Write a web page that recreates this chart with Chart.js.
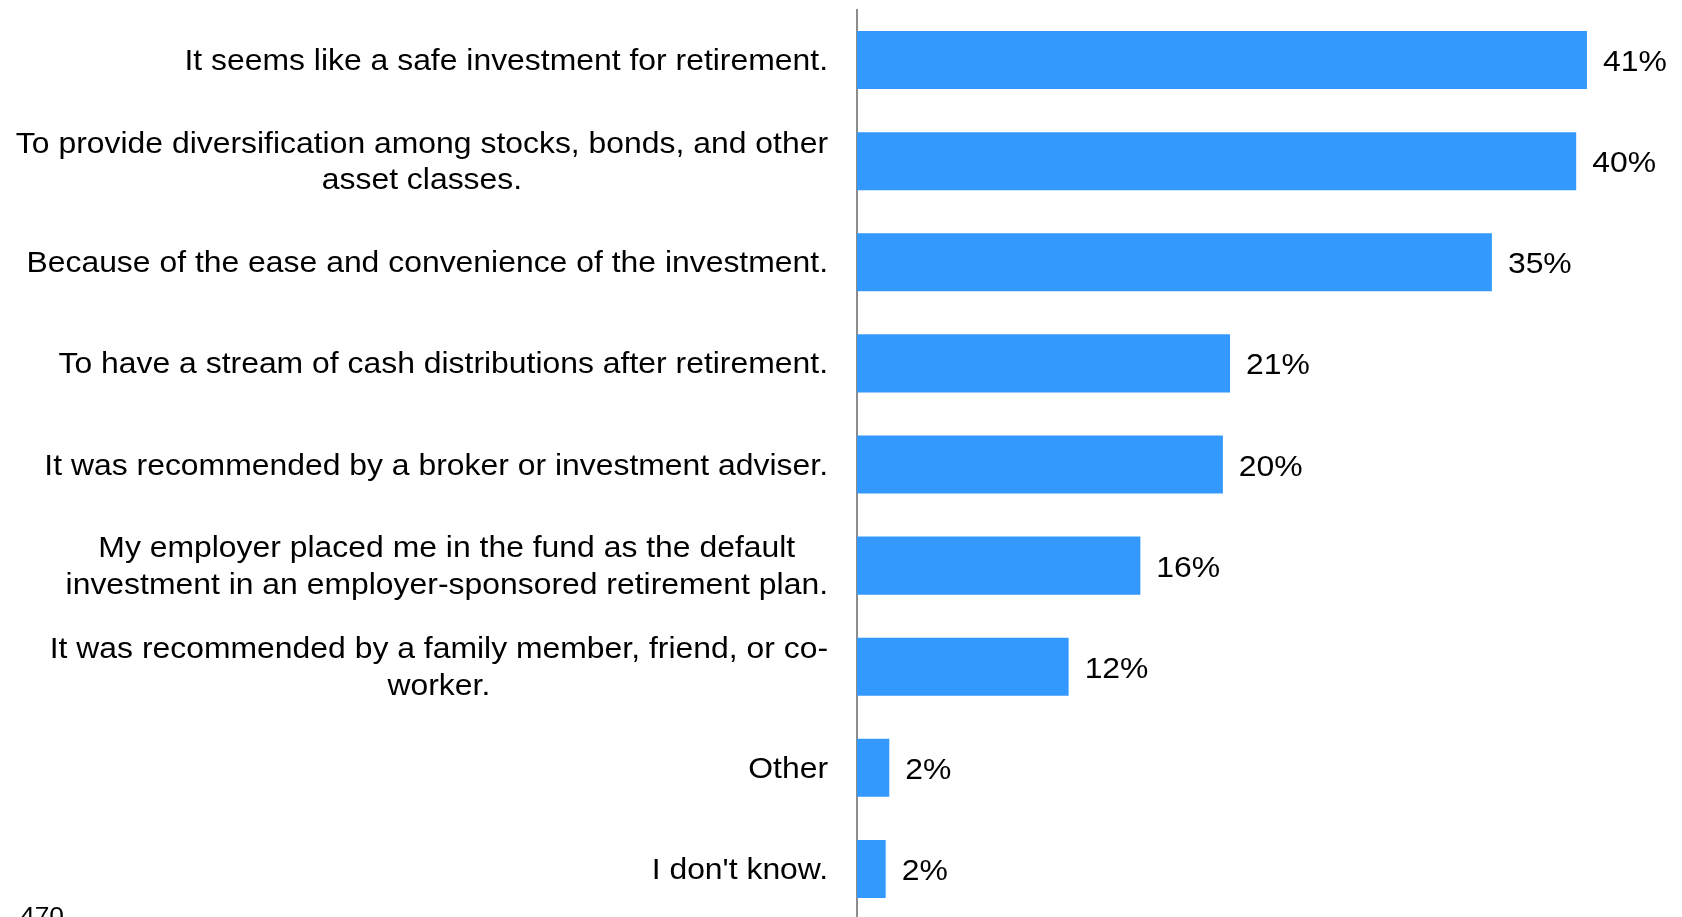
<!DOCTYPE html>
<html>
<head>
<meta charset="utf-8">
<title>Reasons for investing</title>
<script src="https://cdn.jsdelivr.net/npm/chart.js@4/dist/chart.umd.min.js"></script>
<style>
    html, body { margin: 0; padding: 0; background: #fff; overflow: hidden; }
    #chartWrap { position: relative; width: 1682px; height: 940px; }
</style>
</head>
<body>
<div id="chartWrap"><canvas id="reasonsChart"></canvas></div>
<script>
// Chart data
const reasons = [
    'It seems like a safe investment for retirement.',
    ['To provide diversification among stocks, bonds, and other', 'asset classes.'],
    'Because of the ease and convenience of the investment.',
    'To have a stream of cash distributions after retirement.',
    'It was recommended by a broker or investment adviser.',
    ['My employer placed me in the fund as the default', 'investment in an employer-sponsored retirement plan.'],
    ['It was recommended by a family member, friend, or co-', 'worker.'],
    'Other',
    "I don't know."
];
const shares = [40.7, 40.1, 35.4, 20.8, 20.4, 15.8, 11.8, 1.8, 1.6];
const footNote = '470';

const FONT = '"Liberation Sans", Arial, sans-serif';
const FONT_SIZE = 29;
const STRETCH = 1.10;   // text in the original is rendered a bit wide
const LINE_HEIGHT = 36.5;
const AXIS_X = 857;

document.addEventListener('DOMContentLoaded', function() {
    initializeChart();
});

// draw one piece of text, stretched horizontally around its anchor
function drawText(ctx, text, x, y) {
    ctx.save();
    ctx.translate(x, y);
    ctx.scale(STRETCH, 1);
    ctx.fillText(text, 0, 0);
    ctx.restore();
}

// Draws category labels (right aligned block, lines centred) and value labels
const labelPlugin = {
    id: 'labelPlugin',
    afterDraw(chart) {
        const ctx = chart.ctx;
        const yScale = chart.scales.y;
        const meta = chart.getDatasetMeta(0);
        ctx.save();
        ctx.font = FONT_SIZE + 'px ' + FONT;
        ctx.fillStyle = '#000';
        ctx.textBaseline = 'middle';
        ctx.textAlign = 'center';

        reasons.forEach((label, i) => {
            const lines = Array.isArray(label) ? label : [label];
            const blockW = Math.max(...lines.map(l => ctx.measureText(l).width)) * STRETCH;
            const cx = yScale.right - 29 - blockW / 2;
            const cy = yScale.getPixelForValue(i) + 2;
            lines.forEach((line, j) => {
                drawText(ctx, line, cx, cy + (j - (lines.length - 1) / 2) * LINE_HEIGHT);
            });
        });

        // value labels
        ctx.textAlign = 'left';
        meta.data.forEach((bar, i) => {
            drawText(ctx, Math.round(shares[i]) + '%', bar.x + 16, bar.y + 3);
        });

        // sample size note at the bottom left (cut off by the page edge)
        ctx.font = '24px ' + FONT;
        ctx.textBaseline = 'top';
        drawText(ctx, footNote, 20, 905);
        ctx.restore();
    }
};

function initializeChart() {
    const ctx = document.getElementById('reasonsChart');
    new Chart(ctx, {
        type: 'bar',
        data: {
            labels: reasons,
            datasets: [{
                data: shares,
                backgroundColor: '#3399ff',
                borderWidth: 0,
                categoryPercentage: 1,
                barPercentage: 0.574
            }]
        },
        options: {
            indexAxis: 'y',
            responsive: true,
            maintainAspectRatio: false,
            animation: false,
            layout: {
                padding: { top: 9.5, bottom: 20.5, left: 0, right: 0 }
            },
            plugins: {
                legend: { display: false },
                tooltip: { enabled: false }
            },
            scales: {
                x: {
                    display: false,
                    min: 0,
                    max: 46
                },
                y: {
                    grid: { display: false },
                    border: { display: true, color: '#8c8c8c', width: 2 },
                    ticks: { display: false },
                    afterFit: function(scale) {
                        scale.width = AXIS_X;
                    }
                }
            }
        },
        plugins: [labelPlugin]
    });
}
</script>
</body>
</html>
